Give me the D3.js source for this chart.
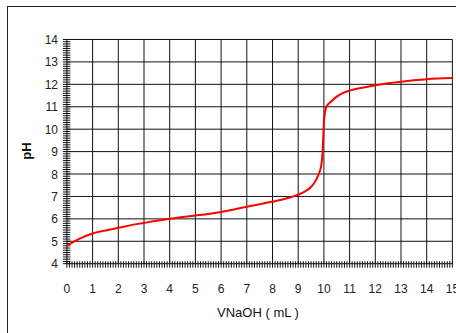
<!DOCTYPE html>
<html><head><meta charset="utf-8">
<script src="https://cdn.jsdelivr.net/npm/d3@7/dist/d3.min.js"></script>
<style>body{margin:0;background:#fff;}svg{display:block;}text{font-family:"Liberation Sans",Arial,sans-serif;}</style>
</head><body>
<svg id="c" width="456" height="333"></svg>
<script>
const volume = [0,0.5,1,1.5,2,2.5,3,3.5,4,4.5,5,5.5,6,6.5,7,7.5,8,8.5,9,9.3,9.5,9.7,9.8,9.9,9.95,10.0,10.05,10.1,10.25,10.5,10.75,11,11.5,12,12.5,13,13.5,14,15];
const pH     = [4.8,5.12,5.35,5.48,5.6,5.72,5.82,5.92,6.0,6.08,6.15,6.22,6.31,6.42,6.54,6.65,6.77,6.9,7.08,7.25,7.42,7.75,8.0,8.4,9.0,10.3,10.8,11.0,11.2,11.45,11.62,11.72,11.85,11.96,12.05,12.12,12.18,12.23,12.28];
const xTicks = [0,1,2,3,4,5,6,7,8,9,10,11,12,13,14,15];
const yTicks = [4,5,6,7,8,9,10,11,12,13,14];

const svg = d3.select("#c");
const x = d3.scaleLinear().domain([0,15]).range([66.9,452.4]);
const y = d3.scaleLinear().domain([4,14]).range([263.7,39.5]);

// outer frame
svg.append("rect").attr("x",7.5).attr("y",6.5).attr("width",470).attr("height",350)
  .attr("fill","none").attr("stroke","#222").attr("stroke-width",1);

// grid
const g = svg.append("g");
g.selectAll(".vg").data(xTicks).join("line")
  .attr("x1",d=>x(d)).attr("x2",d=>x(d)).attr("y1",y(14)).attr("y2",y(4))
  .attr("stroke","#111").attr("stroke-width",1);
g.selectAll(".hg").data(yTicks).join("line")
  .attr("y1",d=>y(d)).attr("y2",d=>y(d)).attr("x1",x(0)).attr("x2",x(15))
  .attr("stroke","#111").attr("stroke-width",1);

// minor ticks
const xMinor = d3.range(0,150.5).map(i=>i/10);
const yMinor = d3.range(40,140.5).map(i=>i/10);
g.selectAll(".xm").data(xMinor).join("line")
  .attr("x1",d=>x(d)).attr("x2",d=>x(d)).attr("y1",y(4)-2.5).attr("y2",y(4)+4)
  .attr("stroke","#111").attr("stroke-width",1);
g.selectAll(".ym").data(yMinor).join("line")
  .attr("y1",d=>y(d)).attr("y2",d=>y(d)).attr("x1",x(0)-4).attr("x2",x(0)+3.5)
  .attr("stroke","#111").attr("stroke-width",1);

// axis labels
g.selectAll(".xl").data(xTicks).join("text")
  .attr("x",d=>x(d)).attr("y",293).attr("text-anchor","middle")
  .attr("font-size",12).attr("fill","#222").text(d=>d);
g.selectAll(".yl").data(yTicks).join("text")
  .attr("x",58).attr("y",d=>y(d)+4.5).attr("text-anchor","end")
  .attr("font-size",12).attr("fill","#222").text(d=>d);

// curve
const line = d3.line().x((d,i)=>x(volume[i])).y((d,i)=>y(pH[i])).curve(d3.curveMonotoneX);
svg.append("path").datum(pH).attr("d",line).attr("fill","none")
  .attr("stroke","#ff0000").attr("stroke-width",2);

// titles
svg.append("text").attr("x",258).attr("y",317).attr("text-anchor","middle")
  .attr("font-size",13).attr("fill","#111").text("VNaOH ( mL )");
svg.append("text").attr("transform","translate(31,151) rotate(-90)").attr("text-anchor","middle")
  .attr("font-size",13).attr("font-weight","bold").attr("fill","#111").text("pH");
</script>
</body></html>
